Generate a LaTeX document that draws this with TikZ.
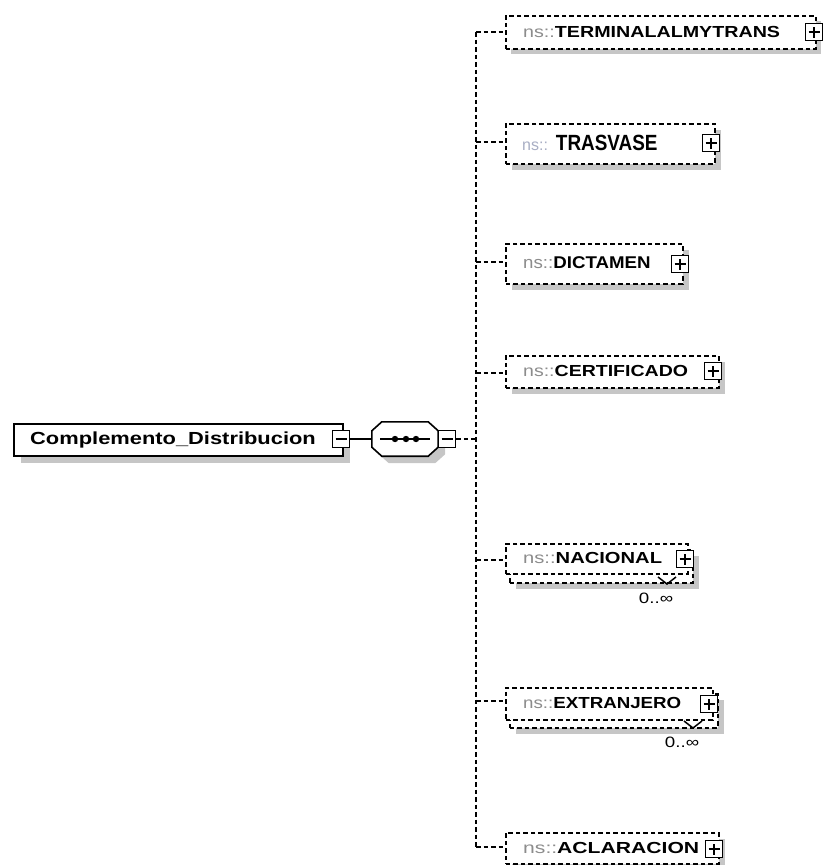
\documentclass[tikz,border=0pt]{standalone}
\usepackage{fontspec}
\setmainfont{Liberation Sans}
\definecolor{nsgray}{HTML}{8C8C8C}
\definecolor{nsblue}{HTML}{A8AEC4}
\definecolor{shadowgray}{HTML}{C6C6C6}
\newcommand{\elname}[3]{\scalebox{#2}[1]{\fontsize{#1}{#1}\selectfont\textcolor{nsgray}{ns::}\textbf{#3}}}
\begin{document}
\begin{tikzpicture}[x=1pt,y=-1pt,
  elembox/.style={draw=black, line width=1.7pt, dash pattern=on 4.5pt off 3pt, fill=white, inner sep=0pt, anchor=north west},
  boxshadow/.style={preaction={fill=shadowgray, draw=none, transform canvas={xshift=#1, yshift=-#1}}},
  rootbox/.style={draw=black, line width=1.6pt, fill=white, inner sep=0pt, anchor=north west},
  conn/.style={line width=1.7pt, dash pattern=on 4.5pt off 3pt},
  solidconn/.style={line width=1.6pt},
  pmbox/.style={draw=black, fill=white, line width=1.5pt, minimum width=17pt, minimum height=17pt, inner sep=0pt},
  plusbox/.style={pmbox, path picture={\draw[line width=1.5pt] ([xshift=3pt]path picture bounding box.west) -- ([xshift=-3pt]path picture bounding box.east) ([yshift=3pt]path picture bounding box.south) -- ([yshift=-3pt]path picture bounding box.north);}},
  minusbox/.style={pmbox, path picture={\draw[line width=1.5pt] ([xshift=3pt]path picture bounding box.west) -- ([xshift=-3pt]path picture bounding box.east);}},
  lbl/.style={anchor=west, inner sep=0pt},
  mult/.style={inner sep=0pt, font=\fontsize{15}{15}\selectfont},
  notch/.style={line width=1.5pt},
  seqframe/.style={draw=none, minimum width=66pt, minimum height=34pt, inner sep=0pt},
  octo/.style={draw=black, line width=1.6pt, fill=white}
]
\useasboundingbox (0,0) rectangle (824,865);

% root
\node[rootbox, boxshadow=7pt, minimum width=329pt, minimum height=32pt] (root) at (13,423) {};
\node[lbl] (roottxt) at (30,439.5) {\scalebox{1.25}[1]{\fontsize{17.5}{17.5}\selectfont\textbf{Complemento\_Distribucion}}};
\node[minusbox] (rootm) at (341,439) {};

% sequence (octagon)
\node[seqframe] (seq) at (405,439) {};
\fill[shadowgray] ([xshift=17pt,yshift=-7pt]seq.north west) -- ([xshift=-3pt,yshift=-7pt]seq.north east) -- ([xshift=7pt,yshift=-16pt]seq.north east) -- ([xshift=7pt,yshift=2pt]seq.south east) -- ([xshift=-3pt,yshift=-7pt]seq.south east) -- ([xshift=17pt,yshift=-7pt]seq.south west) -- ([xshift=7pt,yshift=2pt]seq.south west) -- ([xshift=7pt,yshift=-16pt]seq.north west) -- cycle;
\draw[octo] ([xshift=10pt]seq.north west) -- ([xshift=-10pt]seq.north east) -- ([yshift=-9pt]seq.north east) -- ([yshift=9pt]seq.south east) -- ([xshift=-10pt]seq.south east) -- ([xshift=10pt]seq.south west) -- ([yshift=9pt]seq.south west) -- ([yshift=-9pt]seq.north west) -- cycle;
\node[minusbox] (seqm) at (447,439) {};
\draw[solidconn] (rootm.east) -- (seq.west);
\draw[line width=1.6pt] ([xshift=-25pt]seq.center) -- ([xshift=25pt]seq.center);
\fill ([xshift=-10pt]seq.center) circle (3.2pt);
\fill ([xshift=1pt]seq.center) circle (3.2pt);
\fill ([xshift=11pt]seq.center) circle (3.2pt);

% spine
\coordinate (sp0) at (476,439);
\coordinate (sp1) at (476,32);
\coordinate (sp2) at (476,142);
\coordinate (sp3) at (476,262);
\coordinate (sp4) at (476,373);
\coordinate (sp5) at (476,560);
\coordinate (sp6) at (476,701);
\coordinate (sp7) at (476,847);
\draw[conn] (seqm.east) -- (sp0);
\draw[conn] (sp1) -- (sp7);

% 1 TERMINALALMYTRANS
\node[elembox, boxshadow=5pt, minimum width=310pt, minimum height=33pt] (e1) at (505,15) {};
\node[lbl] (e1t) at (523,32) {\elname{16}{1.23}{TERMINALALMYTRANS}};
\node[plusbox] (e1p) at (814,32) {};
\draw[conn] (sp1) -- (sp1 -| e1.west);

% 2 TRASVASE
\node[elembox, boxshadow=6pt, minimum width=209pt, minimum height=40pt] (e2) at (505,123) {};
\node[lbl] (e2t) at (522,143) {\fontsize{16}{16}\selectfont\textcolor{nsblue}{ns::}\hspace{8pt}\scalebox{0.86}[1]{\fontsize{22}{22}\selectfont\textbf{TRASVASE}}};
\node[plusbox] (e2p) at (711,143) {};
\draw[conn] (sp2) -- (sp2 -| e2.west);

% 3 DICTAMEN
\node[elembox, boxshadow=6pt, minimum width=177pt, minimum height=40pt] (e3) at (505,243) {};
\node[lbl] (e3t) at (523,263) {\elname{17}{1.1}{DICTAMEN}};
\node[plusbox] (e3p) at (680,264) {};
\draw[conn] (sp3) -- (sp3 -| e3.west);

% 4 CERTIFICADO
\node[elembox, boxshadow=6pt, minimum width=213pt, minimum height=32pt] (e4) at (505,355) {};
\node[lbl] (e4t) at (523,371) {\elname{16}{1.22}{CERTIFICADO}};
\node[plusbox] (e4p) at (713,371) {};
\draw[conn] (sp4) -- (sp4 -| e4.west);

% 5 NACIONAL (multiple)
\node[elembox, boxshadow=6pt, minimum width=183pt, minimum height=33pt] (e5b) at (509,549) {};
\node[elembox, minimum width=182pt, minimum height=30pt] (e5) at (505,543) {};
\node[lbl] (e5t) at (523,558) {\elname{16}{1.26}{NACIONAL}};
\node[plusbox] (e5p) at (685,559) {};
\draw[conn] (sp5) -- (sp5 -| e5.west);
\draw[notch] (658,577) -- (667,584) -- (676,577);
\node[mult] (e5m) at (656,598) {\scalebox{1.25}[1]{0..∞}};

% 6 EXTRANJERO (multiple)
\node[elembox, boxshadow=6pt, minimum width=208pt, minimum height=34pt] (e6b) at (509,693) {};
\node[elembox, minimum width=207pt, minimum height=32pt] (e6) at (505,687) {};
\node[lbl] (e6t) at (523,703) {\elname{16}{1.17}{EXTRANJERO}};
\node[plusbox] (e6p) at (709,704) {};
\draw[conn] (sp6) -- (sp6 -| e6.west);
\draw[notch] (684,721) -- (693,728) -- (702,721);
\node[mult] (e6m) at (682,742) {\scalebox{1.25}[1]{0..∞}};

% 7 ACLARACION
\node[elembox, boxshadow=6pt, minimum width=213pt, minimum height=31pt] (e7) at (505,832) {};
\node[lbl] (e7t) at (523,848) {\elname{16}{1.32}{ACLARACION}};
\node[plusbox] (e7p) at (714,849) {};
\draw[conn] (sp7) -- (sp7 -| e7.west);
\end{tikzpicture}
\end{document}
